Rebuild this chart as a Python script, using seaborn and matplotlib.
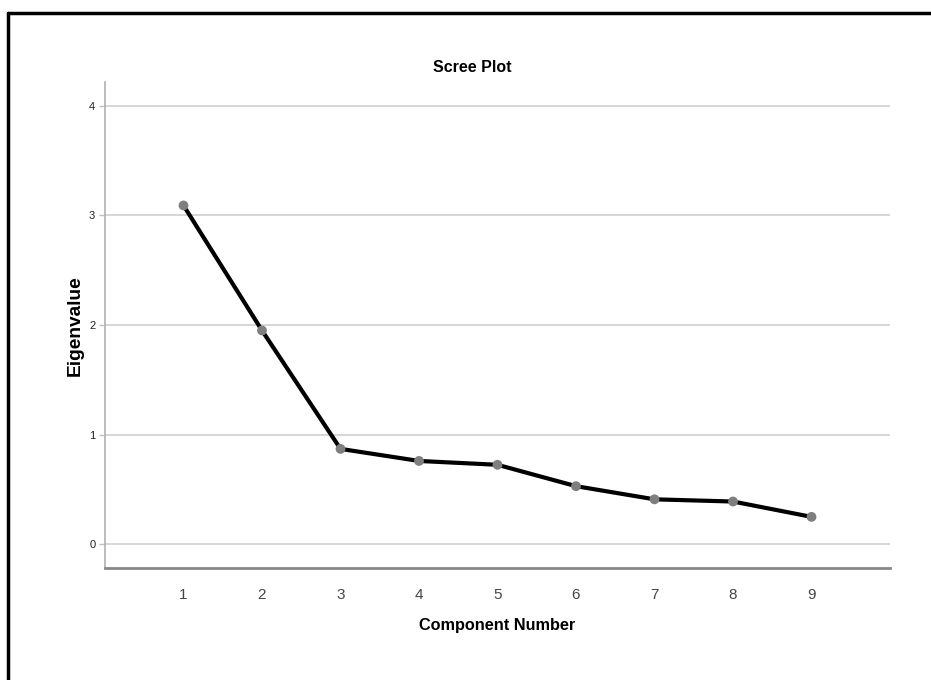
import matplotlib
matplotlib.use("Agg")
import matplotlib.pyplot as plt
from matplotlib.lines import Line2D
import seaborn as sns
import pandas as pd

components = [1, 2, 3, 4, 5, 6, 7, 8, 9]
eigenvalues = [3.09, 1.95, 0.87, 0.76, 0.725, 0.53, 0.41, 0.39, 0.25]
y_ticks = [0, 1, 2, 3, 4]
x_ticks = components

df = pd.DataFrame({"Component Number": components, "Eigenvalue": eigenvalues})

sns.set_theme(style="white")
plt.rcParams['font.family'] = ['Liberation Sans', 'DejaVu Sans']

fig = plt.figure(figsize=(9.31, 6.8), dpi=100)
ax = fig.add_axes([105/931, 1 - 568.3/680, (890-105)/931, (568.3-82)/680])

sns.lineplot(data=df, x="Component Number", y="Eigenvalue", ax=ax,
             color="black", linewidth=3.0, zorder=3)
sns.scatterplot(data=df, x="Component Number", y="Eigenvalue", ax=ax,
                color="#7f7f7f", s=50, edgecolor="none", zorder=4)

ax.set_xlim(0, 10)
ax.set_ylim(-0.219, 4.216)
ax.set_xticks(x_ticks)
ax.set_xticklabels([str(v) for v in x_ticks], fontsize=11, color="#444444")
ax.set_yticks(y_ticks)
ax.set_yticklabels([str(v) for v in y_ticks], fontsize=8, color="#222222")
ax.yaxis.grid(True, color="#d3d3d3", linewidth=1.3)
ax.xaxis.grid(False)
ax.set_axisbelow(True)

for s in ["top", "right"]:
    ax.spines[s].set_visible(False)
ax.spines["left"].set_color("#b0b0b0")
ax.spines["left"].set_linewidth(1.2)
ax.spines["bottom"].set_color("#888888")
ax.spines["bottom"].set_linewidth(2.0)
ax.tick_params(axis="y", which="both", left=True, length=4, width=1, color="#c0c0c0", pad=3)
ax.tick_params(axis="x", which="both", bottom=False, pad=8)

ax.set_xlabel("Component Number", fontsize=11.7, fontweight="bold", labelpad=12, color="black")
ax.set_ylabel("Eigenvalue", fontsize=13.8, fontweight="bold", labelpad=4, color="black")
fig.text(472.5/931, 1 - 67/680, "Scree Plot", ha="center", va="center",
         fontsize=11.5, fontweight="bold", color="black")

# frame lines (top and left visible)
fig.add_artist(Line2D([8/931, 8/931], [0, 1 - 13/680], transform=fig.transFigure,
                      color="black", linewidth=2.5))
fig.add_artist(Line2D([8/931, 1], [1 - 13/680, 1 - 13/680], transform=fig.transFigure,
                      color="black", linewidth=2.5))

fig.savefig("out.png", dpi=100, facecolor="white")
